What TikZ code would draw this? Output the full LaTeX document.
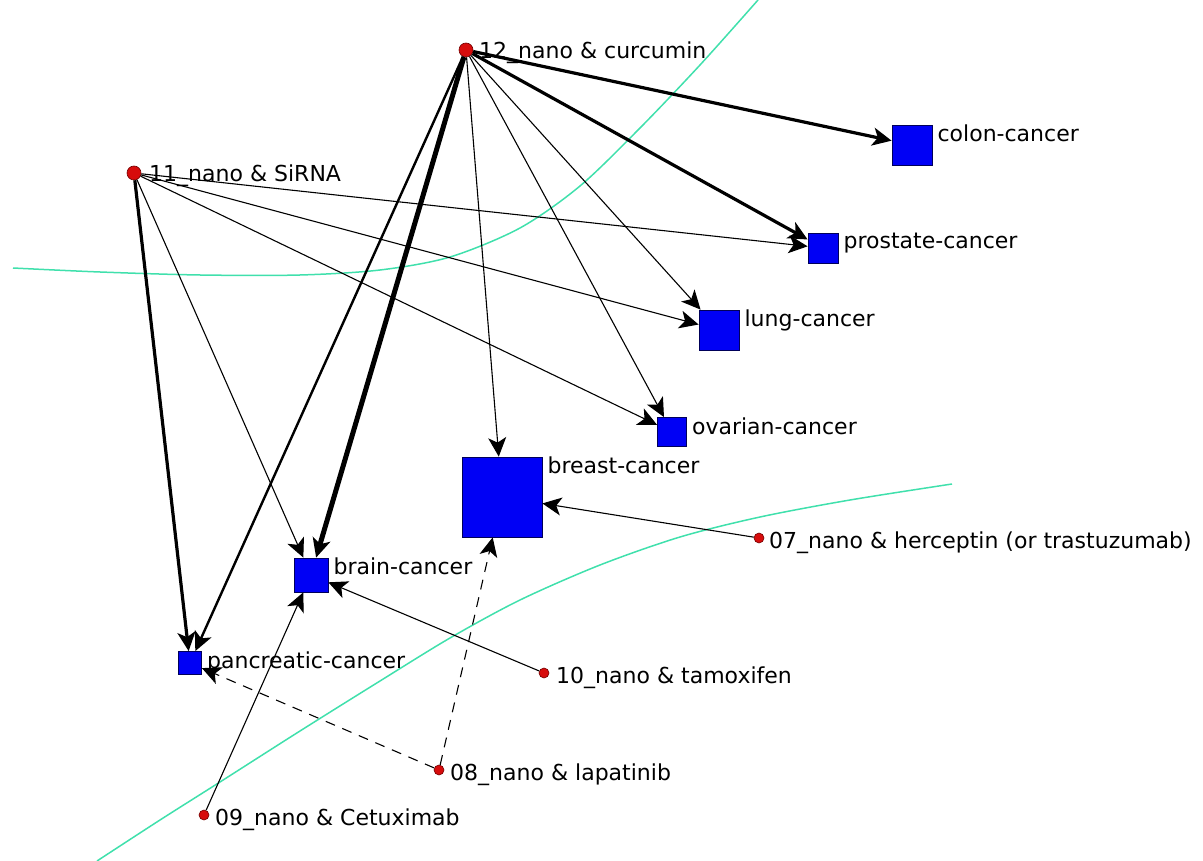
\documentclass[tikz,border=0pt]{standalone}
\usepackage{fontspec}
\setmainfont{DejaVu Sans}
\usetikzlibrary{arrows.meta, positioning}
\definecolor{sepline}{RGB}{64,224,172}
\definecolor{dotred}{RGB}{215,12,12}
\definecolor{boxblue}{RGB}{0,0,245}

\begin{document}
\begin{tikzpicture}[x=1pt, y=-1pt,
      drug/.style={circle, fill=dotred, draw=red!45!black, line width=0.6pt,
                   inner sep=0pt, minimum size=10pt},
      bigdrug/.style={drug, minimum size=14pt},
      cancer/.style={rectangle, fill=boxblue, draw=blue!35!black, line width=0.8pt,
                     inner sep=0pt},
      dlbl/.style={anchor=base west, inner sep=0pt, font=\fontsize{22}{24}\selectfont},
      clbl/.style={anchor=north west, inner sep=0pt, xshift=5pt,
                   font=\fontsize{22}{24}\selectfont},
      arr/.style={-{Stealth[length=19pt, width=18pt, inset=5pt]}, line width=1.1pt},
      arrmid/.style={arr, line width=2.4pt},
      arrthick/.style={arr, line width=3.2pt},
      arrheavy/.style={arr, line width=5pt},
      arrdash/.style={arr, dash pattern=on 10pt off 8pt},
      sep/.style={draw=sepline, line width=1.5pt}
    ]
    \useasboundingbox (0,0) rectangle (1203,861);

    % separating curves
    \draw[sep] plot[smooth, tension=0.5] coordinates {(13,268) (100,272) (200,275) (300,275)
      (380,270) (450,257) (520,228) (580,186) (640,128) (700,65) (758,0)};
    \draw[sep] plot[smooth, tension=0.5] coordinates {(97,861) (160,820) (220,782) (300,731)
      (380,681) (450,638) (520,600) (600,565) (680,537) (760,517) (850,500) (952,484)};

    % cancers
    \node[cancer, minimum size=40pt] (colon)      at (912,145) {};
    \node[cancer, minimum size=30pt] (prostate)   at (823,248) {};
    \node[cancer, minimum size=40pt] (lung)       at (719,330) {};
    \node[cancer, minimum size=29pt] (ovarian)    at (672,432) {};
    \node[cancer, minimum size=80pt] (breast)     at (502,497) {};
    \node[cancer, minimum size=34pt] (brain)      at (311,575) {};
    \node[cancer, minimum size=23pt] (pancreatic) at (190,663) {};

    \node[clbl] (tcolon)      at (colon.north east)      {colon-cancer};
    \node[clbl] (tprostate)   at (prostate.north east)   {prostate-cancer};
    \node[clbl] (tlung)       at (lung.north east)       {lung-cancer};
    \node[clbl] (tovarian)    at (ovarian.north east)    {ovarian-cancer};
    \node[clbl] (tbreast)     at (breast.north east)     {breast-cancer};
    \node[clbl] (tbrain)      at (brain.north east)      {brain-cancer};
    \node[clbl] (tpancreatic) at (pancreatic.north east) {pancreatic-cancer};

    % nano combinations
    \node[bigdrug] (n12) at (466,50)  {};
    \node[bigdrug] (n11) at (134,173) {};
    \node[drug]    (n07) at (759,538) {};
    \node[drug]    (n10) at (544,673) {};
    \node[drug]    (n08) at (439,770) {};
    \node[drug]    (n09) at (204,815) {};

    \node[dlbl] (t12) at (479,59)  {12\_nano \& curcumin};
    \node[dlbl] (t11) at (149,182) {11\_nano \& SiRNA};
    \node[dlbl] (t07) at (769,548) {07\_nano \& herceptin (or trastuzumab)};
    \node[dlbl] (t10) at (556,683) {10\_nano \& tamoxifen};
    \node[dlbl] (t08) at (450,780) {08\_nano \& lapatinib};
    \node[dlbl] (t09) at (215,825) {09\_nano \& Cetuximab};

    % links
    \draw[arrthick] (n12) -- (colon);
    \draw[arrthick] (n12) -- (prostate);
    \draw[arr]      (n12) -- (lung);
    \draw[arr]      (n12) -- (ovarian);
    \draw[arr]      (n12) -- (breast);
    \draw[arrheavy] (n12) -- (brain);
    \draw[arrmid]   (n12) -- (pancreatic);

    \draw[arr]      (n11) -- (prostate);
    \draw[arr]      (n11) -- (lung);
    \draw[arr]      (n11) -- (ovarian);
    \draw[arr]      (n11) -- (brain);
    \draw[arrthick] (n11) -- (pancreatic);

    \draw[arr]     (n07) -- (breast);
    \draw[arr]     (n10) -- (brain);
    \draw[arr]     (n09) -- (brain);
    \draw[arrdash] (n08) -- (breast);
    \draw[arrdash] (n08) -- (pancreatic);
  \end{tikzpicture}
\end{document}
